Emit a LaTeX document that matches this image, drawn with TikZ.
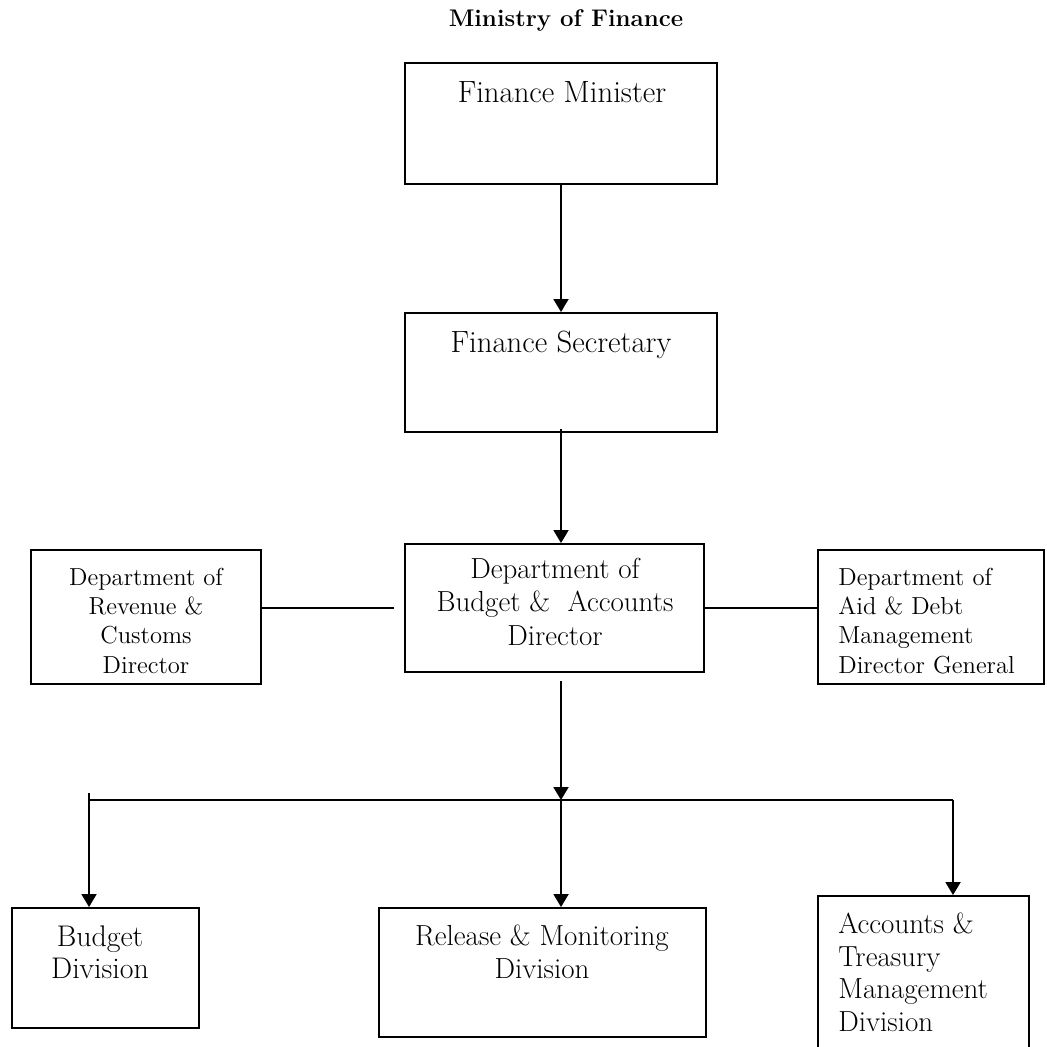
\documentclass[tikz,border=0pt]{standalone}
\usetikzlibrary{arrows.meta,positioning}
\begin{document}
\begin{tikzpicture}[x=0.02cm,y=-0.02cm,
	box/.style={draw,line width=1.1pt,inner sep=0pt},
	arr/.style={-{Triangle[length=0.26cm,width=0.3cm]},line width=1.1pt},
	big/.style={font=\fontsize{17.5}{21}\selectfont,anchor=base,inner sep=0pt},
	lbl/.style={anchor=base,inner sep=0pt,align=center}]
\useasboundingbox (0,0) rectangle (1047,1047);
% boxes
\node[box,minimum width=6.24cm,minimum height=2.42cm] (fm) at (561,123.5) {};
\node[box,minimum width=6.24cm,minimum height=2.38cm] (fs) at (561,372.5) {};
\node[box,minimum width=5.98cm,minimum height=2.56cm] (dba) at (554.5,608) {};
\node[box,minimum width=4.6cm,minimum height=2.68cm] (drc) at (146,617) {};
\node[box,minimum width=4.52cm,minimum height=2.68cm] (adm) at (931,617) {};
\node[box,minimum width=3.74cm,minimum height=2.4cm] (bud) at (105.5,968) {};
\node[box,minimum width=6.54cm,minimum height=2.58cm] (rm) at (542.5,972.5) {};
\node[box,minimum width=4.22cm,minimum height=3.3cm] (atm) at (923.5,978.5) {};
% texts (base = last line)
\node[font=\bfseries\fontsize{13.7}{16}\selectfont,anchor=base,inner sep=0pt] (title) at (566,27) {Ministry of Finance};
\node[big] (fmtxt) at (562,103) {Finance Minister};
\node[big] (fstxt) at (561,352) {Finance Secretary};
\node[lbl,font=\fontsize{16.5}{19}\selectfont] (dbatxt) at (555,645) {Department of\\Budget \&\ \ Accounts\\Director};
\node[lbl,font=\fontsize{14}{16.6}\selectfont] (drctxt) at (146,673) {Department of\\Revenue \&\\Customs\\Director};
\node[lbl,align=left,anchor=base west,font=\fontsize{14}{16.6}\selectfont] (admtxt) at (838,673) {Department of\\Aid \& Debt\\Management\\Director General};
\node[lbl,font=\fontsize{17}{18.2}\selectfont] (budtxt) at (100,978) {Budget\\Division};
\node[lbl,font=\fontsize{16.5}{18.7}\selectfont] (rmtxt) at (542,978) {Release \& Monitoring\\Division};
\node[lbl,align=left,anchor=base west,font=\fontsize{16.5}{18.5}\selectfont] (atmtxt) at (838,1031) {Accounts \&\\Treasury\\Management\\Division};
% connectors
\coordinate (hub) at (561,800);
\coordinate (bl) at (89,793);
\coordinate (br) at (953,800);
\draw[arr] (fm) -- (fs);
\draw[arr] ([yshift=0.08cm]fs.south) -- (fs.south |- dba.north);
\draw[line width=1.1pt] ([xshift=-0.2cm]dba.west) -- (dba.west -| drc.east);
\draw[line width=1.1pt] (dba.east) -- (dba.east -| adm.west);
\draw[arr] ([yshift=-0.16cm]dba.south -| hub) -- (hub);
\draw[arr] (hub) -- (rm.north -| hub);
\draw[line width=1.1pt] (bl |- hub) -- (br);
\draw[arr] (bl) -- (bl |- bud.north);
\draw[arr] (br) -- (br |- atm.north);
\end{tikzpicture}
\end{document}
